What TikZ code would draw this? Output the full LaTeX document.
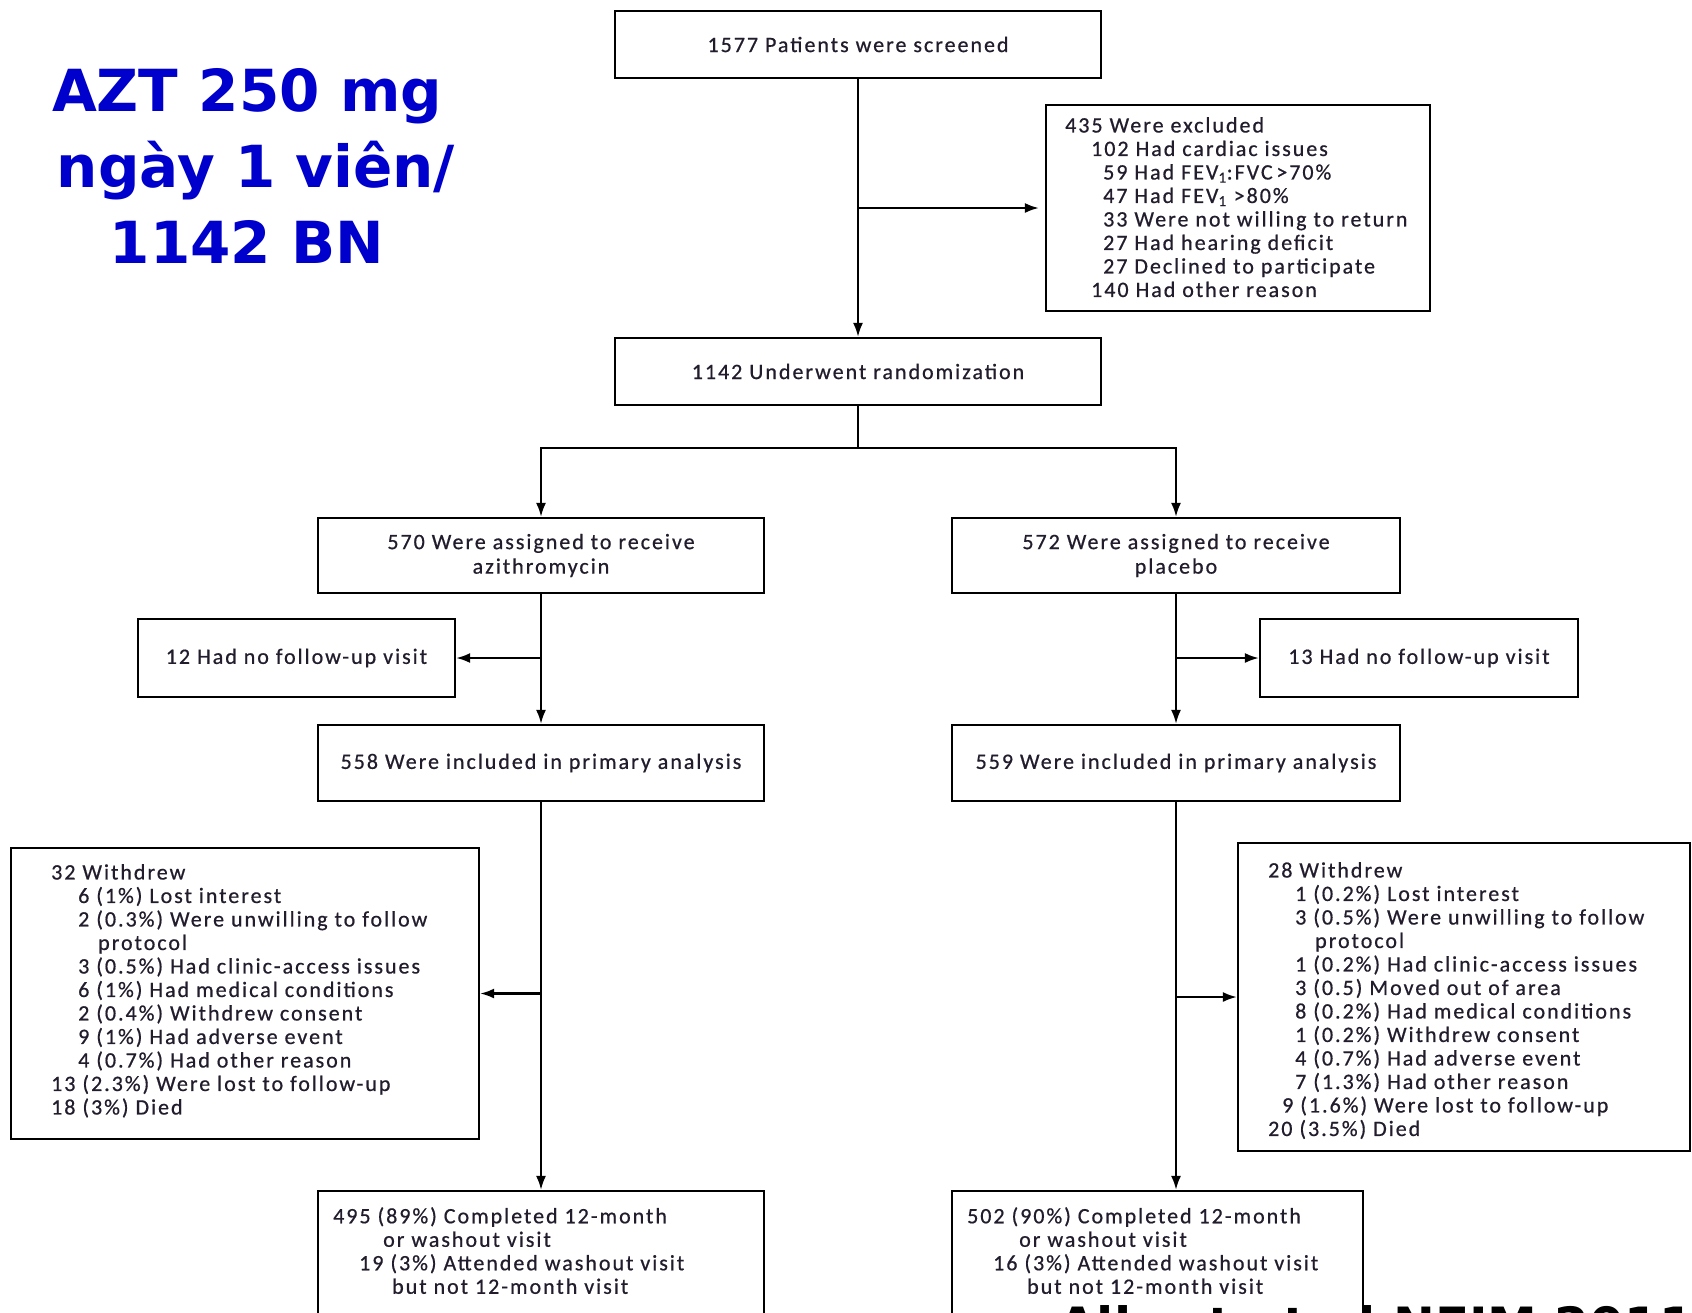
\documentclass[tikz,border=0pt]{standalone}
\usepackage{fontspec}
\setmainfont{Carlito}[LetterSpace=9,FakeBold=0.6]
\newfontfamily\notefont{DejaVu Sans}
\usetikzlibrary{arrows.meta}
\definecolor{ink}{RGB}{34,28,44}
\definecolor{noteblue}{RGB}{0,0,204}

\begin{document}
\begin{tikzpicture}[x=1pt,y=-1pt,
  box/.style={draw=black, line width=2.2pt, inner sep=0pt, text=ink,
    font=\fontsize{22}{23.5}\selectfont},
  lbl/.style={text=ink, inner sep=0pt, align=left, anchor=north west,
    font=\fontsize{22}{23.5}\selectfont},
  flow/.style={line width=2.2pt, -{Latex[length=14pt,width=10pt]}},
  link/.style={line width=2.2pt}]
\useasboundingbox (0,0) rectangle (1692,1312);
\clip (0,0) rectangle (1692,1312);
\fill[white] (0,0) rectangle (1692,1312);

% side note
\node[text=noteblue, align=center, inner sep=0pt,
  font=\notefont\bfseries\fontsize{58}{76}\selectfont] (note) at (247,166)
  {AZT 250 mg\\\hspace*{18pt}ngày 1 viên/\\1142 BN};

% main column
\node[box, minimum width=486pt, minimum height=67pt] (screen) at (858,44.5)
  {1577 Patients were screened};
\node[box, minimum width=384pt, minimum height=206pt] (excl) at (1238,208) {};
\node[lbl] (exclt) at (1065,117) {435 Were excluded\\
  \hspace*{26pt}102 Had cardiac issues\\
  \hspace*{38pt}59 Had FEV\textsubscript{1}:FVC\,>70\%\\
  \hspace*{38pt}47 Had FEV\textsubscript{1} >80\%\\
  \hspace*{38pt}33 Were not willing to return\\
  \hspace*{38pt}27 Had hearing deficit\\
  \hspace*{38pt}27 Declined to participate\\
  \hspace*{26pt}140 Had other reason};
\node[box, minimum width=486pt, minimum height=67pt] (rand) at (858,371.5)
  {1142 Underwent randomization};

% arms
\node[box, minimum width=446pt, minimum height=75pt, align=center] (azi) at (541,555.5)
  {570 Were assigned to receive\\[1pt]azithromycin};
\node[box, minimum width=448pt, minimum height=75pt, align=center] (plc) at (1176,555.5)
  {572 Were assigned to receive\\[1pt]placebo};
\node[box, minimum width=317pt, minimum height=78pt] (nofuA) at (296.5,658)
  {12 Had no follow-up visit};
\node[box, minimum width=318pt, minimum height=78pt] (nofuB) at (1419,658)
  {13 Had no follow-up visit};
\node[box, minimum width=446pt, minimum height=76pt] (inclA) at (541,763)
  {558 Were included in primary analysis};
\node[box, minimum width=448pt, minimum height=76pt] (inclB) at (1176,763)
  {559 Were included in primary analysis};

% withdrawals
\node[box, minimum width=468pt, minimum height=291pt] (wdA) at (245,993.5) {};
\node[lbl] (wdAt) at (51,864) {32 Withdrew\\
  \hspace*{27pt}6 (1\%) Lost interest\\
  \hspace*{27pt}2 (0.3\%) Were unwilling to follow\\
  \hspace*{47pt}protocol\\
  \hspace*{27pt}3 (0.5\%) Had clinic-access issues\\
  \hspace*{27pt}6 (1\%) Had medical conditions\\
  \hspace*{27pt}2 (0.4\%) Withdrew consent\\
  \hspace*{27pt}9 (1\%) Had adverse event\\
  \hspace*{27pt}4 (0.7\%) Had other reason\\
  13 (2.3\%) Were lost to follow-up\\
  18 (3\%) Died};
\node[box, minimum width=452pt, minimum height=308pt] (wdB) at (1464,997) {};
\node[lbl] (wdBt) at (1268,862) {28 Withdrew\\
  \hspace*{27pt}1 (0.2\%) Lost interest\\
  \hspace*{27pt}3 (0.5\%) Were unwilling to follow\\
  \hspace*{47pt}protocol\\
  \hspace*{27pt}1 (0.2\%) Had clinic-access issues\\
  \hspace*{27pt}3 (0.5) Moved out of area\\
  \hspace*{27pt}8 (0.2\%) Had medical conditions\\
  \hspace*{27pt}1 (0.2\%) Withdrew consent\\
  \hspace*{27pt}4 (0.7\%) Had adverse event\\
  \hspace*{27pt}7 (1.3\%) Had other reason\\
  \hspace*{14pt}9 (1.6\%) Were lost to follow-up\\
  20 (3.5\%) Died};

% completion
\node[box, minimum width=446pt, minimum height=170pt] (compA) at (541,1276) {};
\node[lbl] (compAt) at (333,1207) {495 (89\%) Completed 12-month\\
  \hspace*{50pt}or washout visit\\
  \hspace*{26pt}19 (3\%) Attended washout visit\\
  \hspace*{59pt}but not 12-month visit};
\node[box, minimum width=411pt, minimum height=170pt] (compB) at (1157.5,1276) {};
\node[lbl] (compBt) at (967,1207) {502 (90\%) Completed 12-month\\
  \hspace*{52pt}or washout visit\\
  \hspace*{26pt}16 (3\%) Attended washout visit\\
  \hspace*{60pt}but not 12-month visit};

% source line, running off the lower edge
\node[anchor=north west, inner sep=0pt, text=black,
  font=\notefont\bfseries\fontsize{50}{50}\selectfont] (cite) at (1058,1305)
  {Albert et al NEJM 2011};

% connectors
\draw[flow] (screen.south) -- (rand.north);
\draw[flow] (screen.south |- excl.west) -- ([xshift=-6pt]excl.west);
\coordinate (split) at (858,448);
\draw[link] (rand.south) -- (split);
\draw[flow] (split) -| (azi.north);
\draw[flow] (split) -| (plc.north);
\draw[flow] (azi.south) -- (inclA.north);
\draw[flow] (azi.south |- nofuA.east) -- (nofuA.east);
\draw[flow] (plc.south) -- (inclB.north);
\draw[flow] (plc.south |- nofuB.west) -- (nofuB.west);
\draw[flow] (inclA.south) -- (compA.north);
\draw[flow] (inclA.south |- wdA.east) -- (wdA.east);
\draw[flow] (inclB.south) -- (inclB.south |- compB.north);
\draw[flow] (inclB.south |- wdB.west) -- (wdB.west);
\end{tikzpicture}
\end{document}
